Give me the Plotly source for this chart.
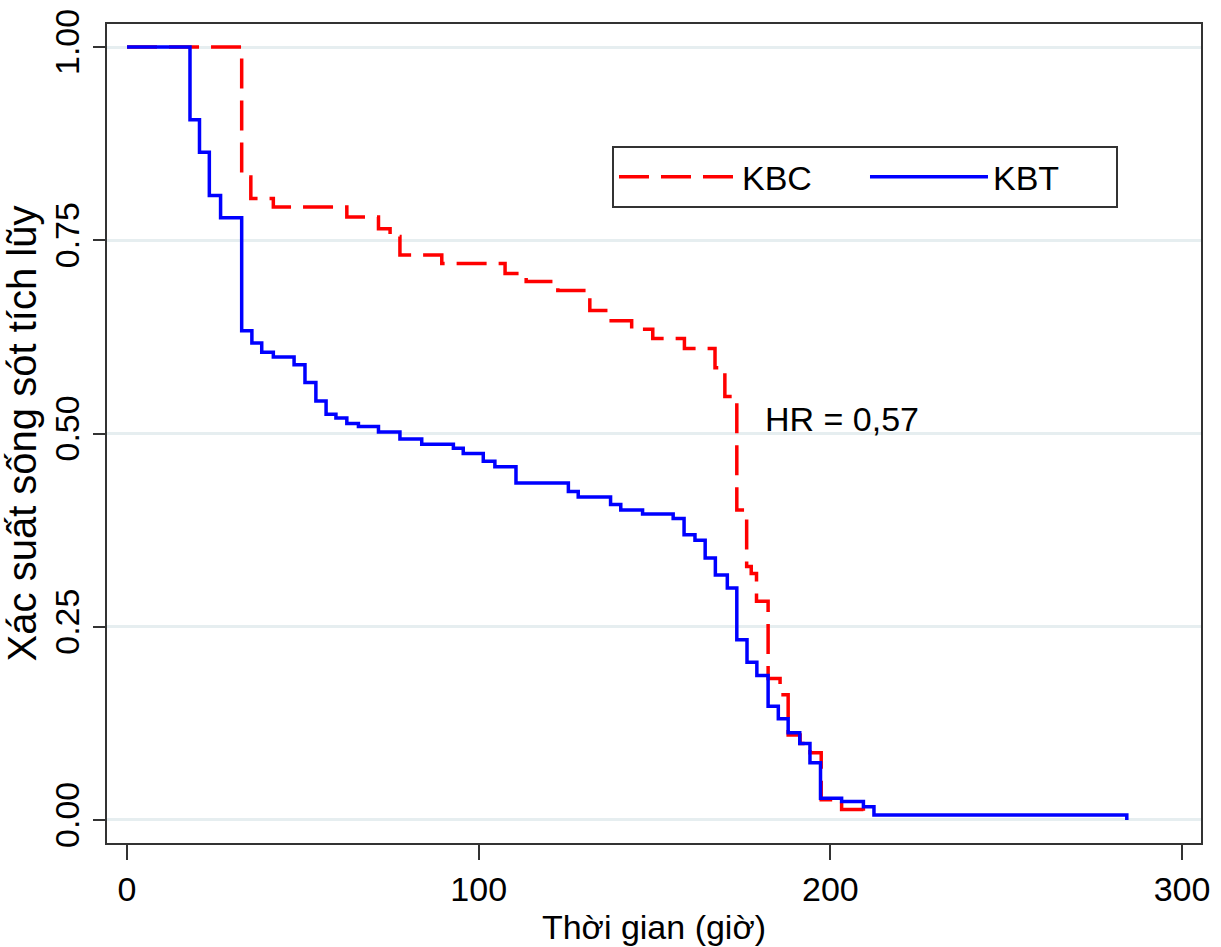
import plotly.graph_objects as go

# ---- data ----
kbc_time = [0, 32.6, 35.2, 41.6, 62.5, 71.5, 74.8, 77.6, 89.5, 107.5, 113.5, 122.5,
            131.6, 136.9, 143.5, 149.5, 158.5, 167.2, 170.0, 173.4, 176.2, 177.5,
            179.0, 182.3, 185.7, 188.0, 191.4, 194.2, 197.4, 203.2, 209.4]
kbc_surv = [1.0, 0.832, 0.804, 0.793, 0.780, 0.765, 0.755, 0.731, 0.720, 0.707, 0.6965, 0.685,
            0.659, 0.646, 0.635, 0.623, 0.610, 0.585, 0.548, 0.401, 0.328, 0.319,
            0.283, 0.183, 0.162, 0.110, 0.099, 0.087, 0.026, 0.0135, 0.0]

kbt_time = [0, 17.9, 20.6, 23.4, 26.6, 32.6, 35.5, 38.3, 41.6, 47.5, 50.6, 53.7, 56.6,
            59.4, 62.5, 65.8, 71.5, 77.6, 83.8, 92.8, 95.6, 101.3, 104.6, 110.6, 125.5,
            128.3, 137.5, 140.4, 146.6, 155.3, 158.4, 161.5, 164.4, 167.3, 170.7, 173.4,
            176.3, 179.1, 182.3, 185.2, 188.0, 191.3, 194.2, 197.2, 203.2, 209.4, 212.4, 284.3]
kbt_surv = [1.0, 0.906, 0.864, 0.808, 0.779, 0.633, 0.617, 0.605, 0.599, 0.589, 0.566, 0.542, 0.525,
            0.520, 0.513, 0.509, 0.502, 0.493, 0.486, 0.481, 0.474, 0.464, 0.457, 0.436, 0.425,
            0.418, 0.408, 0.401, 0.396, 0.390, 0.369, 0.362, 0.339, 0.317, 0.300, 0.233,
            0.204, 0.187, 0.147, 0.131, 0.113, 0.099, 0.074, 0.028, 0.024, 0.017, 0.0065, 0.0]

x_ticks = [0, 100, 200, 300]
y_ticks = [0.0, 0.25, 0.5, 0.75, 1.0]
y_tick_labels = ["0.00", "0.25", "0.50", "0.75", "1.00"]

series_names = ["KBC", "KBT"]
hr_text = "HR = 0,57"

FONT = "Liberation Sans, Arial, sans-serif"

fig = go.Figure()
fig.add_trace(go.Scatter(
    x=kbc_time, y=kbc_surv, mode="lines", name=series_names[0],
    line=dict(color="#ff0000", width=3.5, dash="30px,12px", shape="hv"),
))
fig.add_trace(go.Scatter(
    x=kbt_time, y=kbt_surv, mode="lines", name=series_names[1],
    line=dict(color="#0000ff", width=3.5, shape="hv"),
))

fig.add_annotation(
    x=180.8, y=0.519, xref="x", yref="y", text=hr_text, showarrow=False,
    xanchor="left", yanchor="middle", font=dict(size=34, color="#000000", family=FONT),
)

fig.update_layout(
    width=1221, height=947,
    margin=dict(l=107, r=20, t=24, b=104, autoexpand=False),
    paper_bgcolor="white", plot_bgcolor="white",
    font=dict(family=FONT, size=34, color="#000000"),
    showlegend=True,
    legend=dict(
        orientation="h", x=0.4616, y=0.851, xanchor="left", yanchor="top",
        bgcolor="white", bordercolor="#333333", borderwidth=2,
        font=dict(size=34, family=FONT, color="#000000"),
        itemwidth=118, entrywidth=118, entrywidthmode="pixels",
    ),
    xaxis=dict(
        range=[-5.7, 305.4], tickvals=x_ticks, ticks="outside", ticklen=15, tickwidth=2,
        tickcolor="#333333", showline=True, linecolor="#333333", linewidth=2, mirror=True,
        showgrid=False, zeroline=False,
        tickfont=dict(size=34, family=FONT),
        title=dict(text="Thời gian (giờ)", font=dict(size=34, family=FONT), standoff=8),
    ),
    yaxis=dict(
        range=[-0.0298, 1.0298], tickvals=y_ticks, ticktext=y_tick_labels, tickangle=-90,
        ticks="outside", ticklen=12, tickwidth=2, tickcolor="#333333",
        showline=True, linecolor="#333333", linewidth=2, mirror=True,
        showgrid=True, gridcolor="#e6eef0", gridwidth=2.5, zeroline=False,
        tickfont=dict(size=34, family=FONT),
        title=dict(text="Xác suất sống sót tích lũy", font=dict(size=40, family=FONT), standoff=8),
    ),
)

fig.write_html("out.html")
